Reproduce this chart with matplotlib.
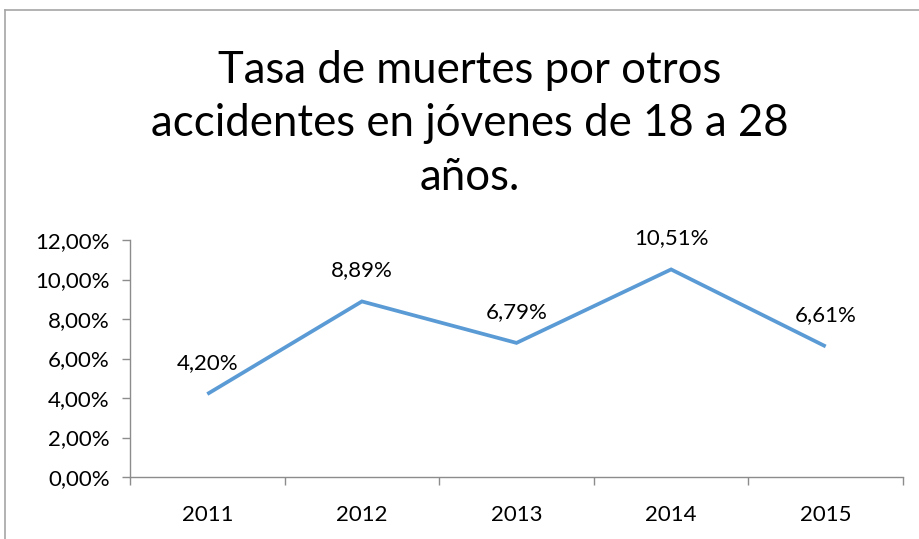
import matplotlib
matplotlib.use("Agg")
import matplotlib.pyplot as plt
from matplotlib.lines import Line2D
from matplotlib.ticker import FixedLocator, FuncFormatter

# ── Data ─────────────────────────────────────────────────────────────────────
years = ["2011", "2012", "2013", "2014", "2015"]
rates = [4.20, 8.89, 6.79, 10.51, 6.61]          # percent
y_ticks = [0, 2, 4, 6, 8, 10, 12]
title = "Tasa de muertes por otros\naccidentes en jóvenes de 18 a 28\naños."

# ── Style ────────────────────────────────────────────────────────────────────
FONT = ["Lato", "DejaVu Sans"]
LINE_COLOR = "#5B9BD5"
AXIS_COLOR = "#8C8C8C"
LABEL_SIZE = 16

plt.rcParams["font.family"] = FONT


def pct(v, _pos=None):
    return f"{v:.2f}".replace(".", ",") + "%"


fig = plt.figure(figsize=(9.2, 5.39), dpi=100)
ax = fig.add_axes([130 / 920, 1 - 477 / 539, (903 - 130) / 920, (477 - 240) / 539])

x = list(range(1, len(years) + 1))
ax.plot(x, rates, color=LINE_COLOR, linewidth=2.7, solid_capstyle="butt",
        solid_joinstyle="miter")

for xi, v in zip(x, rates):
    ax.annotate(pct(v), (xi, v), xytext=(0, 18), textcoords="offset points",
                ha="center", va="baseline", fontsize=LABEL_SIZE)

ax.set_xlim(0.5, len(years) + 0.5)
ax.set_ylim(0, 12)

# y axis
ax.yaxis.set_major_locator(FixedLocator(y_ticks))
ax.yaxis.set_major_formatter(FuncFormatter(pct))
ax.tick_params(axis="y", length=5.5, width=1, color=AXIS_COLOR, pad=9,
               labelsize=LABEL_SIZE)

# x axis: labels at categories, tick marks between them
ax.set_xticks(x)
ax.set_xticklabels(years)
ax.set_xticks([i + 0.5 for i in range(len(years) + 1)], minor=True)
ax.tick_params(axis="x", which="major", length=0, pad=20, labelsize=LABEL_SIZE)
ax.tick_params(axis="x", which="minor", length=6, width=1, color=AXIS_COLOR)

for side in ("top", "right"):
    ax.spines[side].set_visible(False)
for side in ("left", "bottom"):
    ax.spines[side].set_color(AXIS_COLOR)
    ax.spines[side].set_linewidth(1)

fig.text(470 / 920, 1 - 124 / 539, title, ha="center", va="center",
         fontsize=31.5, linespacing=1.38)

# chart border (runs off right and bottom edges)
fig.add_artist(Line2D([5 / 920, 5 / 920], [0, 1 - 10 / 539],
                      transform=fig.transFigure, color="#A6A6A6", linewidth=1.2))
fig.add_artist(Line2D([5 / 920, 1], [1 - 10 / 539, 1 - 10 / 539],
                      transform=fig.transFigure, color="#A6A6A6", linewidth=1.2))

fig.savefig("out.png", dpi=100)
